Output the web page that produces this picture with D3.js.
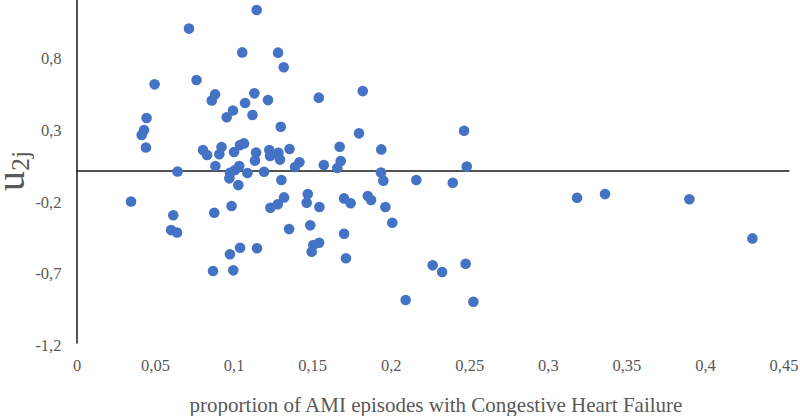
<!DOCTYPE html>
<html><head><meta charset="utf-8">
<script src="https://cdn.jsdelivr.net/npm/d3@7"></script>
<style>body{margin:0;background:#fff}svg{display:block}</style>
</head><body>
<svg id="c" width="800" height="416"></svg>
<script>
// proportion of AMI episodes with CHF (x) and level-2 residual u2j (y)
const xValues = [
  0.0347,0.0446,0.0430,0.0415,0.0442,0.0497,0.0616,0.0602,0.0640,0.0643,
  0.0716,0.0764,0.0882,0.0861,0.0996,0.0956,0.1073,0.1055,0.1147,0.1132,
  0.1120,0.1219,0.1283,0.1319,0.1300,0.0805,0.0831,0.0923,0.0909,0.1003,
  0.1041,0.1066,0.1143,0.1136,0.1227,0.1232,0.1285,0.1295,0.1356,0.1391,
  0.0884,0.1036,0.0977,0.1009,0.0973,0.1030,0.1088,0.1194,0.1304,0.1419,
  0.0877,0.0987,0.1321,0.1281,0.1234,0.1353,0.1041,0.0977,0.1149,0.0869,
  0.0998,0.1822,0.1542,0.1798,0.2467,0.1675,0.1940,0.1682,0.1574,0.1660,
  0.2484,0.1938,0.1953,0.2163,0.2395,0.1472,0.1465,0.1546,0.1703,0.1745,
  0.1854,0.1875,0.1966,0.2010,0.1488,0.1703,0.1544,0.1507,0.1497,0.1715,
  0.2267,0.2327,0.2477,0.2095,0.2526,0.3186,0.3364,0.3901,0.4302
];
const yValues = [
  -0.213,0.370,0.286,0.251,0.164,0.605,-0.308,-0.412,-0.429,-0.003,
  0.994,0.635,0.535,0.492,0.422,0.375,0.475,0.828,1.124,0.542,
  0.391,0.495,0.826,0.724,0.309,0.147,0.112,0.167,0.117,0.133,
  0.181,0.193,0.129,0.073,0.147,0.105,0.128,0.080,0.154,0.028,
  0.035,0.035,-0.012,0.007,-0.051,-0.098,-0.014,-0.005,-0.063,0.061,
  -0.291,-0.244,-0.184,-0.232,-0.256,-0.405,-0.535,-0.581,-0.539,-0.698,
  -0.693,0.558,0.512,0.263,0.281,0.170,0.151,0.070,0.042,0.021,
  0.031,-0.010,-0.068,-0.063,-0.082,-0.161,-0.221,-0.251,-0.191,-0.225,
  -0.174,-0.202,-0.251,-0.361,-0.379,-0.438,-0.500,-0.516,-0.563,-0.609,
  -0.658,-0.705,-0.647,-0.900,-0.912,-0.186,-0.161,-0.197,-0.470
];
const xTicks = [0,0.05,0.1,0.15,0.2,0.25,0.3,0.35,0.4,0.45];
const yTicks = [-1.2,-0.7,-0.2,0.3,0.8];
const xTitle = "proportion of AMI episodes with Congestive Heart Failure";
const yTitleMain = "u";
const yTitleSub = "2j";

const svg = d3.select("#c");
const x = d3.scaleLinear().domain([0,0.45]).range([76.5,783.5]);
const y = d3.scaleLinear().domain([-1.2,1.3]).range([343,343-2.5*143.3]);
const fmt = v => String(v).replace(".", ",");
const font = "'Liberation Serif','Times New Roman',serif";
const grey = "#595959";

// x axis labels (no line)
const gx = svg.append("g").attr("transform",`translate(0,${y(-1.2)})`)
  .call(d3.axisBottom(x).tickValues(xTicks).tickSize(0).tickPadding(16).tickFormat(fmt));
gx.select(".domain").remove();
gx.selectAll("text").attr("font-family",font).attr("font-size",16.5).attr("fill",grey);

// y axis
const gy = svg.append("g").attr("transform",`translate(${x(0)},0)`)
  .call(d3.axisLeft(y).tickValues(yTicks).tickSize(0).tickPadding(15).tickFormat(fmt));
gy.select(".domain").attr("stroke","#1a1a1a").attr("stroke-width",1.5);
gy.selectAll("text").attr("font-family",font).attr("font-size",16.5).attr("fill",grey).attr("dy","0.45em");

// zero line
svg.append("line").attr("x1",x(0)).attr("x2",x(0.45)+6).attr("y1",y(0)).attr("y2",y(0))
  .attr("stroke","#1a1a1a").attr("stroke-width",1.5);

// points
svg.append("g").selectAll("circle").data(xValues.map((v,i)=>[v,yValues[i]])).join("circle")
  .attr("cx",d=>x(d[0])).attr("cy",d=>y(d[1])).attr("r",5.3).attr("fill","#4472C4");

// titles
svg.append("text").attr("x",436).attr("y",412).attr("text-anchor","middle")
  .attr("font-family",font).attr("font-size",21).attr("fill",grey).text(xTitle);

const yt = svg.append("text").attr("transform",`translate(24,171) rotate(-90)`)
  .attr("text-anchor","middle").attr("font-family",font).attr("fill",grey);
yt.append("tspan").attr("font-size",40).text(yTitleMain);
yt.append("tspan").attr("font-size",26).attr("dy",5).text(yTitleSub);
</script>
</body></html>
